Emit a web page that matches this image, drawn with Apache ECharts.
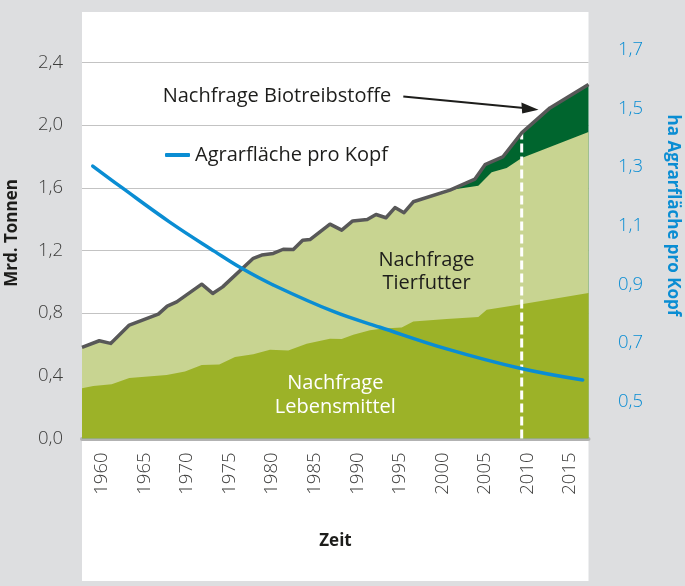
<!DOCTYPE html>
<html>
<head>
<meta charset="utf-8">
<script src="https://cdn.jsdelivr.net/npm/echarts@6/dist/echarts.min.js"></script>
<style>
html,body{margin:0;padding:0;background:#dddee0;}
#main{width:685px;height:586px;}
</style>
</head>
<body>
<div id="main"></div>
<script>
// x-Achse: Jahre
var xMin = 1957.65;
var xMax = 2017.17;
var yearTicks = [1960, 1965, 1970, 1975, 1980, 1985, 1990, 1995, 2000, 2005, 2010, 2015];

// Gesamtnachfrage (Oberkante Biotreibstoffe), Mrd. Tonnen
var totalYears = [1957.65, 1959.68, 1961.02, 1963.21, 1966.62, 1967.67, 1968.78, 1971.72, 1973.01, 1974.18,
  1977.78, 1978.77, 1980.13, 1981.30, 1982.48, 1983.58, 1984.44, 1986.79, 1988.17, 1989.46,
  1991.17, 1992.20, 1993.37, 1994.43, 1995.49, 1996.58, 2000.89, 2003.83, 2005.01, 2007.09,
  2009.32, 2012.64, 2017.17];
var totalVals = [0.582, 0.624, 0.607, 0.724, 0.794, 0.845, 0.872, 0.985, 0.926, 0.968,
  1.150, 1.171, 1.181, 1.208, 1.206, 1.266, 1.270, 1.368, 1.330, 1.389,
  1.398, 1.430, 1.409, 1.474, 1.441, 1.511, 1.585, 1.656, 1.748, 1.797,
  1.951, 2.110, 2.260];

// Oberkante Tierfutter (bis 2001 gleich der Gesamtnachfrage)
var feedYears = [1957.65, 1959.68, 1961.02, 1963.21, 1966.62, 1967.67, 1968.78, 1971.72, 1973.01, 1974.18,
  1977.78, 1978.77, 1980.13, 1981.30, 1982.48, 1983.58, 1984.44, 1986.79, 1988.17, 1989.46,
  1991.17, 1992.20, 1993.37, 1994.43, 1995.49, 1996.58, 2000.89, 2001.28, 2004.22, 2005.79,
  2007.55, 2009.32, 2017.17];
var feedVals = [0.582, 0.624, 0.607, 0.724, 0.794, 0.845, 0.872, 0.985, 0.926, 0.968,
  1.150, 1.171, 1.181, 1.208, 1.206, 1.266, 1.270, 1.368, 1.330, 1.389,
  1.398, 1.430, 1.409, 1.474, 1.441, 1.511, 1.585, 1.589, 1.614, 1.699,
  1.727, 1.791, 1.956];

// Oberkante Lebensmittel
var foodYears = [1957.65, 1958.98, 1961.14, 1963.21, 1967.60, 1969.75, 1971.72, 1973.78, 1975.63, 1977.78,
  1979.74, 1981.89, 1984.05, 1986.79, 1988.17, 1989.53, 1991.49, 1993.06, 1995.22, 1996.58,
  2000.50, 2004.22, 2005.21, 2009.12, 2017.17];
var foodVals = [0.321, 0.335, 0.346, 0.386, 0.405, 0.428, 0.469, 0.472, 0.520, 0.537,
  0.566, 0.562, 0.605, 0.637, 0.635, 0.663, 0.691, 0.702, 0.708, 0.747,
  0.762, 0.775, 0.822, 0.856, 0.928];

// Agrarfläche pro Kopf, ha (rechte Achse)
var agrYears = [1958.91, 1962.31, 1968.0, 1973.28, 1976.42, 1980.0, 1987.18, 1992.67, 2000.50, 2009.12, 2016.49];
var agrVals = [1.304, 1.231, 1.112, 1.012, 0.955, 0.900, 0.808, 0.754, 0.680, 0.614, 0.574];

// gestrichelte Linie
var markerYear = 2009.32;
var markerTop = 1.951;

function pairs(xs, ys) {
  var out = [];
  for (var i = 0; i < xs.length; i++) { out.push([xs[i], ys[i]]); }
  return out;
}
function komma(v) { return Number(v).toFixed(1).replace('.', ','); }

var FONT = '"Open Sans", "Noto Sans", sans-serif';
var BLUE = '#0a8dd3';

var myChart = echarts.init(document.getElementById('main'));
var option = {
  backgroundColor: '#dddee0',
  animation: false,
  textStyle: { fontFamily: FONT },
  grid: [
    { left: 82, top: 62.5, width: 506.5, height: 376 },
    { left: 82, top: 50, width: 506.5, height: 351.7 }
  ],
  legend: {
    data: ['Agrarfläche pro Kopf'],
    left: 165, top: 145, padding: 0,
    icon: 'roundRect', itemWidth: 25, itemHeight: 4,
    textStyle: { fontSize: 20, color: '#1d1d1b', fontFamily: FONT }
  },
  xAxis: [
    {
      gridIndex: 0, type: 'value', min: xMin, max: xMax,
      axisLine: { lineStyle: { color: '#b2b2b2', width: 4 } },
      axisTick: { show: false },
      splitLine: { show: false },
      axisLabel: {
        customValues: yearTicks, rotate: 90, margin: 14,
        fontSize: 18.5, fontWeight: 300, color: '#3c3c3b',
        formatter: function (v) { return String(v); }
      }
    },
    { gridIndex: 1, type: 'value', min: xMin, max: xMax, show: false }
  ],
  yAxis: [
    {
      gridIndex: 0, type: 'value', min: 0, max: 2.4, interval: 0.4,
      axisLine: { show: false }, axisTick: { show: false },
      splitLine: { lineStyle: { color: '#c3c3c3', width: 1 } },
      axisLabel: { margin: 19, fontSize: 18.5, fontWeight: 300, color: '#3c3c3b', formatter: komma }
    },
    {
      gridIndex: 1, type: 'value', position: 'right', min: 0.5, max: 1.7, interval: 0.2,
      axisLine: { show: false }, axisTick: { show: false }, splitLine: { show: false },
      axisLabel: { align: 'right', margin: 54.5, fontSize: 18.5, fontWeight: 300, color: BLUE, formatter: komma }
    }
  ],
  series: [
    {
      name: 'Nachfrage Biotreibstoffe', type: 'line', xAxisIndex: 0, yAxisIndex: 0,
      showSymbol: false, lineStyle: { width: 0 },
      areaStyle: { color: '#00652e', opacity: 1 },
      data: pairs(totalYears, totalVals)
    },
    {
      name: 'Nachfrage Tierfutter', type: 'line', xAxisIndex: 0, yAxisIndex: 0,
      showSymbol: false, lineStyle: { width: 0 },
      areaStyle: { color: '#c8d491', opacity: 1 },
      data: pairs(feedYears, feedVals)
    },
    {
      name: 'Nachfrage Lebensmittel', type: 'line', xAxisIndex: 0, yAxisIndex: 0,
      showSymbol: false, lineStyle: { width: 0 },
      areaStyle: { color: '#9cb228', opacity: 1 },
      data: pairs(foodYears, foodVals)
    },
    {
      name: 'heute', type: 'line', xAxisIndex: 0, yAxisIndex: 0,
      showSymbol: false,
      lineStyle: { color: '#ffffff', width: 3, type: [9, 4] },
      data: [[markerYear, 0], [markerYear, markerTop]]
    },
    {
      name: 'Gesamt', type: 'line', xAxisIndex: 0, yAxisIndex: 0,
      showSymbol: false,
      lineStyle: { color: '#585858', width: 3.5, join: 'round' },
      data: pairs(totalYears, totalVals)
    },
    {
      name: 'Agrarfläche pro Kopf', type: 'line', xAxisIndex: 1, yAxisIndex: 1,
      showSymbol: false, smooth: 0.4,
      itemStyle: { color: BLUE },
      lineStyle: { color: BLUE, width: 3.5, cap: 'round' },
      data: pairs(agrYears, agrVals)
    }
  ],
  graphic: [
    { type: 'rect', z: -10, silent: true, shape: { x: 82, y: 12, width: 506.5, height: 569 }, style: { fill: '#ffffff' } },
    { type: 'text', x: 335.5, y: 541, z: 10,
      style: { text: 'Zeit', fontSize: 17, fontWeight: 'bold', fontFamily: FONT, fill: '#1d1d1b', textAlign: 'center', textVerticalAlign: 'middle' } },
    { type: 'text', x: 12.5, y: 233, rotation: Math.PI / 2, z: 10,
      style: { text: 'Mrd. Tonnen', fontSize: 17, fontWeight: 'bold', fontFamily: FONT, fill: '#1d1d1b', textAlign: 'center', textVerticalAlign: 'middle' } },
    { type: 'text', x: 672.5, y: 215.5, rotation: -Math.PI / 2, z: 10,
      style: { text: 'ha Agrarfläche pro Kopf', fontSize: 17, fontWeight: 'bold', fontFamily: FONT, fill: BLUE, textAlign: 'center', textVerticalAlign: 'middle' } },
    { type: 'text', x: 162.7, y: 96.7, z: 10,
      style: { text: 'Nachfrage Biotreibstoffe', fontSize: 20, fontFamily: FONT, fill: '#1d1d1b', textAlign: 'left', textVerticalAlign: 'middle' } },
    { type: 'line', z: 10, shape: { x1: 403.3, y1: 96.5, x2: 524, y2: 108.1 }, style: { stroke: '#1d1d1b', lineWidth: 2 } },
    { type: 'polygon', z: 10, shape: { points: [[538.5, 109.8], [521.4, 102.6], [522.2, 113.6]] }, style: { fill: '#1d1d1b' } },
    { type: 'text', x: 426.5, y: 271.5, z: 10,
      style: { text: 'Nachfrage\nTierfutter', fontSize: 20, lineHeight: 23, fontFamily: FONT, fill: '#1d1d1b', textAlign: 'center', textVerticalAlign: 'middle' } },
    { type: 'text', x: 335.3, y: 395.5, z: 10,
      style: { text: 'Nachfrage\nLebensmittel', fontSize: 20, lineHeight: 23.5, fontFamily: FONT, fill: '#ffffff', textAlign: 'center', textVerticalAlign: 'middle' } }
  ]
};
myChart.setOption(option);
</script>
</body>
</html>
